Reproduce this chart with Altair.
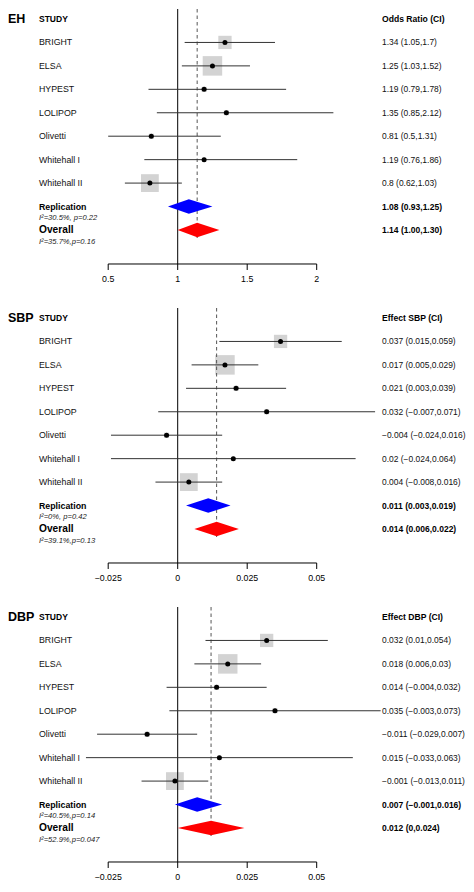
import altair as alt
import pandas as pd

# ---------------- data ----------------
studies = ["BRIGHT", "ELSA", "HYPEST", "LOLIPOP", "Olivetti", "Whitehall I", "Whitehall II"]
weights = [18.3, 39.4, 2.6, 2.6, 2.6, 1.7, 32.8]  # study weights (%), box area
pooled_names = ["Replication", "Overall"]

eh_est = [1.34, 1.25, 1.19, 1.35, 0.81, 1.19, 0.8]
eh_lo = [1.05, 1.03, 0.79, 0.85, 0.5, 0.76, 0.62]
eh_hi = [1.7, 1.52, 1.78, 2.12, 1.31, 1.86, 1.03]
eh_labels = ["1.34 (1.05,1.7)", "1.25 (1.03,1.52)", "1.19 (0.79,1.78)", "1.35 (0.85,2.12)",
             "0.81 (0.5,1.31)", "1.19 (0.76,1.86)", "0.8 (0.62,1.03)"]
eh_pooled_est = [1.08, 1.14]
eh_pooled_lo = [0.93, 1.00]
eh_pooled_hi = [1.25, 1.30]
eh_pooled_labels = ["1.08 (0.93,1.25)", "1.14 (1.00,1.30)"]
eh_i2 = ["I²=30.5%, p=0.22", "I²=35.7%,p=0.16"]
eh_ticks = [0.5, 1, 1.5, 2]
eh_tick_labels = ["0.5", "1", "1.5", "2"]

sbp_est = [0.037, 0.017, 0.021, 0.032, -0.004, 0.02, 0.004]
sbp_lo = [0.015, 0.005, 0.003, -0.007, -0.024, -0.024, -0.008]
sbp_hi = [0.059, 0.029, 0.039, 0.071, 0.016, 0.064, 0.016]
sbp_labels = ["0.037 (0.015,0.059)", "0.017 (0.005,0.029)", "0.021 (0.003,0.039)",
              "0.032 (\u22120.007,0.071)", "\u22120.004 (\u22120.024,0.016)",
              "0.02 (\u22120.024,0.064)", "0.004 (\u22120.008,0.016)"]
sbp_pooled_est = [0.011, 0.014]
sbp_pooled_lo = [0.003, 0.006]
sbp_pooled_hi = [0.019, 0.022]
sbp_pooled_labels = ["0.011 (0.003,0.019)", "0.014 (0.006,0.022)"]
sbp_i2 = ["I²=0%, p=0.42", "I²=39.1%,p=0.13"]

dbp_est = [0.032, 0.018, 0.014, 0.035, -0.011, 0.015, -0.001]
dbp_lo = [0.01, 0.006, -0.004, -0.003, -0.029, -0.033, -0.013]
dbp_hi = [0.054, 0.03, 0.032, 0.073, 0.007, 0.063, 0.011]
dbp_labels = ["0.032 (0.01,0.054)", "0.018 (0.006,0.03)", "0.014 (\u22120.004,0.032)",
              "0.035 (\u22120.003,0.073)", "\u22120.011 (\u22120.029,0.007)",
              "0.015 (\u22120.033,0.063)", "\u22120.001 (\u22120.013,0.011)"]
dbp_pooled_est = [0.007, 0.012]
dbp_pooled_lo = [-0.001, 0]
dbp_pooled_hi = [0.016, 0.024]
dbp_pooled_labels = ["0.007 (\u22120.001,0.016)", "0.012 (0,0.024)"]
dbp_i2 = ["I²=40.5%,p=0.14", "I²=52.9%,p=0.047"]

bp_ticks = [-0.025, 0, 0.025, 0.05]
bp_tick_labels = ["\u22120.025", "0", "0.025", "0.05"]

# ---------------- layout ----------------
W, H = 458, 276
Y_DOMAIN = [-0.4266, 11.348]
AXIS_ROW = 10.452
TICK_END = 10.708
TICK_LABEL_ROW = 11.092
DASH_END = 9.343
DIAMOND_HALF = 0.31
NAME_X = 31
CI_X = 374
FONT = "Liberation Sans"
EH_DOMAIN = [-0.22086, 3.07410]
BP_DOMAIN = [-0.061043, 0.103705]


def panel(letter, header, est, lo, hi, labels, p_est, p_lo, p_hi, p_labels, i2,
          ticks, tick_labels, null_value, x_domain):
    rows = list(range(1, len(studies) + 1))
    sdf = pd.DataFrame({"study": studies, "row": rows, "est": est, "lo": lo, "hi": hi,
                        "label": labels, "w": weights})
    pdf = pd.DataFrame({"name": pooled_names, "row": [8, 9], "est": p_est, "lo": p_lo,
                        "hi": p_hi, "label": p_labels, "i2": i2, "i2row": [8.5, 9.5]})
    drows = []
    for n, r, e, l, h in zip(pooled_names, [8, 9], p_est, p_lo, p_hi):
        drows.append({"name": n, "x": l, "y": r, "y2": r})
        drows.append({"name": n, "x": e, "y": r - DIAMOND_HALF, "y2": r + DIAMOND_HALF})
        drows.append({"name": n, "x": h, "y": r, "y2": r})
    ddf = pd.DataFrame(drows)
    tdf = pd.DataFrame({"t": ticks, "lab": tick_labels,
                        "ya": [AXIS_ROW] * len(ticks), "yb": [TICK_END] * len(ticks),
                        "yl": [TICK_LABEL_ROW] * len(ticks)})
    axdf = pd.DataFrame({"a": [ticks[0]], "b": [ticks[-1]], "y": [AXIS_ROW]})
    vdf = pd.DataFrame({"x": [null_value, p_est[1]], "kind": ["null", "overall"],
                        "top": [Y_DOMAIN[0], Y_DOMAIN[0]], "bot": [AXIS_ROW, DASH_END]})
    hdf = pd.DataFrame({"letter": [letter], "study": ["STUDY"], "header": [header], "row": [0]})

    xs = alt.Scale(domain=x_domain, nice=False, zero=False)
    ys = alt.Scale(domain=Y_DOMAIN, nice=False, zero=False, reverse=True)

    def X(f):
        return alt.X(f, type="quantitative", scale=xs, axis=None)

    def Y(f):
        return alt.Y(f, type="quantitative", scale=ys, axis=None)

    null_rule = alt.Chart(vdf[vdf.kind == "null"]).mark_rule(color="black", strokeWidth=1).encode(
        x=X("x"), y=Y("top"), y2="bot")
    dash_rule = alt.Chart(vdf[vdf.kind == "overall"]).mark_rule(
        color="#555555", strokeWidth=1, strokeDash=[3.5, 3]).encode(
        x=X("x"), y=Y("top"), y2="bot")
    boxes = alt.Chart(sdf).mark_point(shape="square", filled=True, color="#d3d3d3", opacity=1).encode(
        x=X("est"), y=Y("row"),
        size=alt.Size("w:Q", scale=alt.Scale(domain=[0, 100], range=[0, 965]), legend=None))
    ci = alt.Chart(sdf).mark_rule(color="#333333", strokeWidth=1).encode(
        x=X("lo"), x2="hi", y=Y("row"))
    dots = alt.Chart(sdf).mark_circle(color="black", size=25, opacity=1).encode(
        x=X("est"), y=Y("row"))
    diamonds = alt.Chart(ddf).mark_area(orient="vertical", opacity=1).encode(
        x=X("x"), y=Y("y"), y2="y2",
        color=alt.Color("name:N", scale=alt.Scale(domain=pooled_names, range=["#0000ff", "#ff0000"]),
                        legend=None),
        detail="name:N")
    axis_line = alt.Chart(axdf).mark_rule(color="black", strokeWidth=1).encode(
        x=X("a"), x2="b", y=Y("y"))
    axis_ticks = alt.Chart(tdf).mark_rule(color="black", strokeWidth=1).encode(
        x=X("t"), y=Y("ya"), y2="yb")
    axis_labels = alt.Chart(tdf).mark_text(font=FONT, fontSize=8.8, color="black",
                                           align="center", baseline="middle").encode(
        x=X("t"), y=Y("yl"), text="lab:N")

    letter_t = alt.Chart(hdf).mark_text(font=FONT, fontSize=12.5, fontWeight="bold", align="left",
                                        baseline="middle", color="black").encode(
        x=alt.value(0), y=Y("row"), text="letter:N")
    study_t = alt.Chart(hdf).mark_text(font=FONT, fontSize=8.5, fontWeight="bold", align="left",
                                       baseline="middle", color="black").encode(
        x=alt.value(NAME_X), y=Y("row"), text="study:N")
    header_t = alt.Chart(hdf).mark_text(font=FONT, fontSize=8.6, fontWeight="bold", align="left",
                                        baseline="middle", color="black").encode(
        x=alt.value(CI_X), y=Y("row"), text="header:N")
    names_t = alt.Chart(sdf).mark_text(font=FONT, fontSize=8.8, align="left", baseline="middle",
                                       color="#111111").encode(
        x=alt.value(NAME_X), y=Y("row"), text="study:N")
    ci_t = alt.Chart(sdf).mark_text(font=FONT, fontSize=8.45, align="left", baseline="middle",
                                    color="#111111").encode(
        x=alt.value(CI_X), y=Y("row"), text="label:N")
    rep_t = alt.Chart(pdf.iloc[[0]]).mark_text(font=FONT, fontSize=8.8, fontWeight="bold",
                                               align="left", baseline="middle", color="black").encode(
        x=alt.value(NAME_X), y=Y("row"), text="name:N")
    ov_t = alt.Chart(pdf.iloc[[1]]).mark_text(font=FONT, fontSize=10.2, fontWeight="bold",
                                              align="left", baseline="middle", color="black").encode(
        x=alt.value(NAME_X), y=Y("row"), text="name:N")
    i2_t = alt.Chart(pdf).mark_text(font=FONT, fontSize=7.6, fontStyle="italic", align="left",
                                    baseline="middle", color="#222222").encode(
        x=alt.value(NAME_X), y=Y("i2row"), text="i2:N")
    pci_t = alt.Chart(pdf).mark_text(font=FONT, fontSize=8.5, fontWeight="bold", align="left",
                                     baseline="middle", color="black").encode(
        x=alt.value(CI_X), y=Y("row"), text="label:N")

    return alt.layer(
        boxes, null_rule, dash_rule, ci, dots, diamonds, axis_line, axis_ticks, axis_labels,
        letter_t, study_t, header_t, names_t, ci_t, rep_t, ov_t, i2_t, pci_t
    ).properties(width=W, height=H)


eh = panel("EH", "Odds Ratio (CI)", eh_est, eh_lo, eh_hi, eh_labels,
           eh_pooled_est, eh_pooled_lo, eh_pooled_hi, eh_pooled_labels, eh_i2,
           eh_ticks, eh_tick_labels, 1, EH_DOMAIN)
sbp = panel("SBP", "Effect SBP (CI)", sbp_est, sbp_lo, sbp_hi, sbp_labels,
            sbp_pooled_est, sbp_pooled_lo, sbp_pooled_hi, sbp_pooled_labels, sbp_i2,
            bp_ticks, bp_tick_labels, 0, BP_DOMAIN)
dbp = panel("DBP", "Effect DBP (CI)", dbp_est, dbp_lo, dbp_hi, dbp_labels,
            dbp_pooled_est, dbp_pooled_lo, dbp_pooled_hi, dbp_pooled_labels, dbp_i2,
            bp_ticks, bp_tick_labels, 0, BP_DOMAIN)

chart = alt.vconcat(eh, sbp, dbp, spacing=22).properties(
    padding=0, background="white").configure_view(stroke=None)

chart.save("out.html", embed_options={"renderer": "svg", "actions": False})
